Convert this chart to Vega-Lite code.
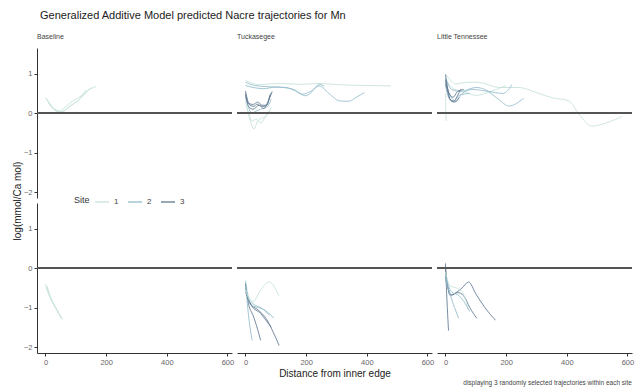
{
  "$schema": "https://vega.github.io/schema/vega-lite/v6.json",
  "padding": {"left": 12, "top": 10, "right": 3, "bottom": 2},
  "background": "white",
  "title": {"text": "Generalized Additive Model predicted Nacre trajectories for Mn", "anchor": "start", "fontSize": 11, "fontWeight": "normal", "font": "Liberation Sans", "color": "#222222", "offset": 12, "dx": 27},
  "config": {
    "view": {"stroke": null},
    "font": "Liberation Sans",
    "axis": {"grid": false, "domainColor": "#333333", "domainWidth": 1, "tickColor": "#333333", "tickSize": 3, "labelColor": "#666666", "labelFontSize": 7.5, "labelPadding": 2}
  },
  "spacing": 0,
  "vconcat": [
    {
      "data": {"values": [
        {"p":"A","r":"Baseline","s":"1","t":"b1","x":0,"y":0.40},{"p":"A","r":"Baseline","s":"1","t":"b1","x":15,"y":0.22},{"p":"A","r":"Baseline","s":"1","t":"b1","x":30,"y":0.08},{"p":"A","r":"Baseline","s":"1","t":"b1","x":45,"y":0.05},{"p":"A","r":"Baseline","s":"1","t":"b1","x":60,"y":0.12},{"p":"A","r":"Baseline","s":"1","t":"b1","x":80,"y":0.25},{"p":"A","r":"Baseline","s":"1","t":"b1","x":100,"y":0.35},{"p":"A","r":"Baseline","s":"1","t":"b1","x":120,"y":0.45},{"p":"A","r":"Baseline","s":"1","t":"b1","x":140,"y":0.58},{"p":"A","r":"Baseline","s":"1","t":"b1","x":166,"y":0.67},
        {"p":"A","r":"Baseline","s":"1","t":"b2","x":5,"y":0.35},{"p":"A","r":"Baseline","s":"1","t":"b2","x":20,"y":0.18},{"p":"A","r":"Baseline","s":"1","t":"b2","x":40,"y":0.06},{"p":"A","r":"Baseline","s":"1","t":"b2","x":55,"y":0.03},{"p":"A","r":"Baseline","s":"1","t":"b2","x":75,"y":0.15},{"p":"A","r":"Baseline","s":"1","t":"b2","x":95,"y":0.25},{"p":"A","r":"Baseline","s":"1","t":"b2","x":115,"y":0.38},{"p":"A","r":"Baseline","s":"1","t":"b2","x":133,"y":0.59},
        {"p":"A","r":"Baseline","s":"1","t":"b3","x":10,"y":0.25},{"p":"A","r":"Baseline","s":"1","t":"b3","x":25,"y":0.12},{"p":"A","r":"Baseline","s":"1","t":"b3","x":45,"y":0.02},{"p":"A","r":"Baseline","s":"1","t":"b3","x":65,"y":0.08},{"p":"A","r":"Baseline","s":"1","t":"b3","x":85,"y":0.2},{"p":"A","r":"Baseline","s":"1","t":"b3","x":105,"y":0.3},{"p":"A","r":"Baseline","s":"1","t":"b3","x":125,"y":0.45},{"p":"A","r":"Baseline","s":"1","t":"b3","x":150,"y":0.65},
        {"p":"B","r":"Baseline","s":"1","t":"bb1","x":0,"y":-0.40},{"p":"B","r":"Baseline","s":"1","t":"bb1","x":10,"y":-0.65},{"p":"B","r":"Baseline","s":"1","t":"bb1","x":25,"y":-0.9},{"p":"B","r":"Baseline","s":"1","t":"bb1","x":40,"y":-1.1},{"p":"B","r":"Baseline","s":"1","t":"bb1","x":55,"y":-1.3},
        {"p":"B","r":"Baseline","s":"1","t":"bb2","x":3,"y":-0.5},{"p":"B","r":"Baseline","s":"1","t":"bb2","x":15,"y":-0.72},{"p":"B","r":"Baseline","s":"1","t":"bb2","x":30,"y":-0.95},{"p":"B","r":"Baseline","s":"1","t":"bb2","x":45,"y":-1.15},{"p":"B","r":"Baseline","s":"1","t":"bb2","x":50,"y":-1.25},
        {"p":"B","r":"Baseline","s":"1","t":"bb3","x":5,"y":-0.45},{"p":"B","r":"Baseline","s":"1","t":"bb3","x":20,"y":-0.8},{"p":"B","r":"Baseline","s":"1","t":"bb3","x":35,"y":-1.02},{"p":"B","r":"Baseline","s":"1","t":"bb3","x":48,"y":-1.2},{"p":"B","r":"Baseline","s":"1","t":"bb3","x":57,"y":-1.28},

        {"p":"A","r":"Tuckasegee","s":"1","t":"t1","x":0,"y":0.82},{"p":"A","r":"Tuckasegee","s":"1","t":"t1","x":20,"y":0.77},{"p":"A","r":"Tuckasegee","s":"1","t":"t1","x":45,"y":0.72},{"p":"A","r":"Tuckasegee","s":"1","t":"t1","x":80,"y":0.74},{"p":"A","r":"Tuckasegee","s":"1","t":"t1","x":120,"y":0.75},{"p":"A","r":"Tuckasegee","s":"1","t":"t1","x":178,"y":0.73},{"p":"A","r":"Tuckasegee","s":"1","t":"t1","x":243,"y":0.75},{"p":"A","r":"Tuckasegee","s":"1","t":"t1","x":310,"y":0.72},{"p":"A","r":"Tuckasegee","s":"1","t":"t1","x":400,"y":0.7},{"p":"A","r":"Tuckasegee","s":"1","t":"t1","x":480,"y":0.69},
        {"p":"A","r":"Tuckasegee","s":"1","t":"t2","x":0,"y":0.3},{"p":"A","r":"Tuckasegee","s":"1","t":"t2","x":8,"y":0.05},{"p":"A","r":"Tuckasegee","s":"1","t":"t2","x":18,"y":-0.25},{"p":"A","r":"Tuckasegee","s":"1","t":"t2","x":28,"y":-0.4},{"p":"A","r":"Tuckasegee","s":"1","t":"t2","x":40,"y":-0.2},{"p":"A","r":"Tuckasegee","s":"1","t":"t2","x":55,"y":-0.12},{"p":"A","r":"Tuckasegee","s":"1","t":"t2","x":70,"y":-0.05},{"p":"A","r":"Tuckasegee","s":"1","t":"t2","x":85,"y":0.15},
        {"p":"A","r":"Tuckasegee","s":"1","t":"t3","x":3,"y":0.2},{"p":"A","r":"Tuckasegee","s":"1","t":"t3","x":12,"y":-0.05},{"p":"A","r":"Tuckasegee","s":"1","t":"t3","x":22,"y":-0.2},{"p":"A","r":"Tuckasegee","s":"1","t":"t3","x":35,"y":-0.15},{"p":"A","r":"Tuckasegee","s":"1","t":"t3","x":50,"y":-0.25},{"p":"A","r":"Tuckasegee","s":"1","t":"t3","x":65,"y":-0.1},{"p":"A","r":"Tuckasegee","s":"1","t":"t3","x":80,"y":0.05},
        {"p":"A","r":"Tuckasegee","s":"2","t":"t4","x":0,"y":0.78},{"p":"A","r":"Tuckasegee","s":"2","t":"t4","x":30,"y":0.7},{"p":"A","r":"Tuckasegee","s":"2","t":"t4","x":70,"y":0.67},{"p":"A","r":"Tuckasegee","s":"2","t":"t4","x":133,"y":0.65},{"p":"A","r":"Tuckasegee","s":"2","t":"t4","x":160,"y":0.58},{"p":"A","r":"Tuckasegee","s":"2","t":"t4","x":188,"y":0.48},{"p":"A","r":"Tuckasegee","s":"2","t":"t4","x":215,"y":0.55},{"p":"A","r":"Tuckasegee","s":"2","t":"t4","x":243,"y":0.69},{"p":"A","r":"Tuckasegee","s":"2","t":"t4","x":275,"y":0.5},{"p":"A","r":"Tuckasegee","s":"2","t":"t4","x":310,"y":0.31},{"p":"A","r":"Tuckasegee","s":"2","t":"t4","x":340,"y":0.3},{"p":"A","r":"Tuckasegee","s":"2","t":"t4","x":365,"y":0.4},{"p":"A","r":"Tuckasegee","s":"2","t":"t4","x":392,"y":0.52},
        {"p":"A","r":"Tuckasegee","s":"2","t":"t5","x":0,"y":0.7},{"p":"A","r":"Tuckasegee","s":"2","t":"t5","x":25,"y":0.65},{"p":"A","r":"Tuckasegee","s":"2","t":"t5","x":60,"y":0.62},{"p":"A","r":"Tuckasegee","s":"2","t":"t5","x":100,"y":0.66},{"p":"A","r":"Tuckasegee","s":"2","t":"t5","x":155,"y":0.61},{"p":"A","r":"Tuckasegee","s":"2","t":"t5","x":199,"y":0.44},{"p":"A","r":"Tuckasegee","s":"2","t":"t5","x":220,"y":0.55},{"p":"A","r":"Tuckasegee","s":"2","t":"t5","x":243,"y":0.73},{"p":"A","r":"Tuckasegee","s":"2","t":"t5","x":260,"y":0.68},
        {"p":"A","r":"Tuckasegee","s":"2","t":"t6","x":0,"y":0.4},{"p":"A","r":"Tuckasegee","s":"2","t":"t6","x":10,"y":0.15},{"p":"A","r":"Tuckasegee","s":"2","t":"t6","x":20,"y":0.0},{"p":"A","r":"Tuckasegee","s":"2","t":"t6","x":35,"y":0.05},{"p":"A","r":"Tuckasegee","s":"2","t":"t6","x":50,"y":0.1},{"p":"A","r":"Tuckasegee","s":"2","t":"t6","x":70,"y":0.15},{"p":"A","r":"Tuckasegee","s":"2","t":"t6","x":85,"y":0.35},
        {"p":"A","r":"Tuckasegee","s":"3","t":"t7","x":0,"y":0.56},{"p":"A","r":"Tuckasegee","s":"3","t":"t7","x":8,"y":0.3},{"p":"A","r":"Tuckasegee","s":"3","t":"t7","x":15,"y":0.2},{"p":"A","r":"Tuckasegee","s":"3","t":"t7","x":28,"y":0.17},{"p":"A","r":"Tuckasegee","s":"3","t":"t7","x":38,"y":0.23},{"p":"A","r":"Tuckasegee","s":"3","t":"t7","x":50,"y":0.18},{"p":"A","r":"Tuckasegee","s":"3","t":"t7","x":62,"y":0.17},{"p":"A","r":"Tuckasegee","s":"3","t":"t7","x":72,"y":0.24},{"p":"A","r":"Tuckasegee","s":"3","t":"t7","x":83,"y":0.5},
        {"p":"A","r":"Tuckasegee","s":"3","t":"t8","x":0,"y":0.5},{"p":"A","r":"Tuckasegee","s":"3","t":"t8","x":10,"y":0.25},{"p":"A","r":"Tuckasegee","s":"3","t":"t8","x":25,"y":0.22},{"p":"A","r":"Tuckasegee","s":"3","t":"t8","x":40,"y":0.28},{"p":"A","r":"Tuckasegee","s":"3","t":"t8","x":55,"y":0.2},{"p":"A","r":"Tuckasegee","s":"3","t":"t8","x":70,"y":0.2},{"p":"A","r":"Tuckasegee","s":"3","t":"t8","x":80,"y":0.45},
        {"p":"A","r":"Tuckasegee","s":"3","t":"t9","x":0,"y":0.45},{"p":"A","r":"Tuckasegee","s":"3","t":"t9","x":12,"y":0.15},{"p":"A","r":"Tuckasegee","s":"3","t":"t9","x":25,"y":0.1},{"p":"A","r":"Tuckasegee","s":"3","t":"t9","x":45,"y":0.2},{"p":"A","r":"Tuckasegee","s":"3","t":"t9","x":60,"y":0.12},{"p":"A","r":"Tuckasegee","s":"3","t":"t9","x":75,"y":0.3},{"p":"A","r":"Tuckasegee","s":"3","t":"t9","x":88,"y":0.55},

        {"p":"B","r":"Tuckasegee","s":"1","t":"tb1","x":0,"y":-0.3},{"p":"B","r":"Tuckasegee","s":"1","t":"tb1","x":10,"y":-0.7},{"p":"B","r":"Tuckasegee","s":"1","t":"tb1","x":25,"y":-0.85},{"p":"B","r":"Tuckasegee","s":"1","t":"tb1","x":50,"y":-0.55},{"p":"B","r":"Tuckasegee","s":"1","t":"tb1","x":78,"y":-0.35},{"p":"B","r":"Tuckasegee","s":"1","t":"tb1","x":110,"y":-0.7},
        {"p":"B","r":"Tuckasegee","s":"2","t":"tb2","x":0,"y":-0.35},{"p":"B","r":"Tuckasegee","s":"2","t":"tb2","x":5,"y":-0.8},{"p":"B","r":"Tuckasegee","s":"2","t":"tb2","x":10,"y":-1.2},{"p":"B","r":"Tuckasegee","s":"2","t":"tb2","x":15,"y":-1.5},{"p":"B","r":"Tuckasegee","s":"2","t":"tb2","x":22,"y":-1.83},
        {"p":"B","r":"Tuckasegee","s":"3","t":"tb3","x":0,"y":-0.4},{"p":"B","r":"Tuckasegee","s":"3","t":"tb3","x":10,"y":-0.9},{"p":"B","r":"Tuckasegee","s":"3","t":"tb3","x":25,"y":-1.2},{"p":"B","r":"Tuckasegee","s":"3","t":"tb3","x":40,"y":-1.55},{"p":"B","r":"Tuckasegee","s":"3","t":"tb3","x":50,"y":-1.83},
        {"p":"B","r":"Tuckasegee","s":"3","t":"tb4","x":0,"y":-0.5},{"p":"B","r":"Tuckasegee","s":"3","t":"tb4","x":15,"y":-0.9},{"p":"B","r":"Tuckasegee","s":"3","t":"tb4","x":40,"y":-1.05},{"p":"B","r":"Tuckasegee","s":"3","t":"tb4","x":70,"y":-1.3},{"p":"B","r":"Tuckasegee","s":"3","t":"tb4","x":90,"y":-1.6},{"p":"B","r":"Tuckasegee","s":"3","t":"tb4","x":111,"y":-1.96},
        {"p":"B","r":"Tuckasegee","s":"2","t":"tb5","x":0,"y":-0.45},{"p":"B","r":"Tuckasegee","s":"2","t":"tb5","x":20,"y":-0.95},{"p":"B","r":"Tuckasegee","s":"2","t":"tb5","x":45,"y":-1.0},{"p":"B","r":"Tuckasegee","s":"2","t":"tb5","x":70,"y":-1.1},{"p":"B","r":"Tuckasegee","s":"2","t":"tb5","x":94,"y":-1.27},
        {"p":"B","r":"Tuckasegee","s":"3","t":"tb6","x":0,"y":-0.6},{"p":"B","r":"Tuckasegee","s":"3","t":"tb6","x":20,"y":-0.95},{"p":"B","r":"Tuckasegee","s":"3","t":"tb6","x":50,"y":-1.15},{"p":"B","r":"Tuckasegee","s":"3","t":"tb6","x":75,"y":-1.4},{"p":"B","r":"Tuckasegee","s":"3","t":"tb6","x":85,"y":-1.5},
        {"p":"B","r":"Tuckasegee","s":"2","t":"tb7","x":0,"y":-0.5},{"p":"B","r":"Tuckasegee","s":"2","t":"tb7","x":15,"y":-0.85},{"p":"B","r":"Tuckasegee","s":"2","t":"tb7","x":35,"y":-0.95},{"p":"B","r":"Tuckasegee","s":"2","t":"tb7","x":60,"y":-1.05},{"p":"B","r":"Tuckasegee","s":"2","t":"tb7","x":80,"y":-1.2},
        {"p":"B","r":"Tuckasegee","s":"1","t":"tb8","x":0,"y":-0.55},{"p":"B","r":"Tuckasegee","s":"1","t":"tb8","x":10,"y":-0.75},{"p":"B","r":"Tuckasegee","s":"1","t":"tb8","x":25,"y":-0.9},{"p":"B","r":"Tuckasegee","s":"1","t":"tb8","x":40,"y":-1.0},

        {"p":"A","r":"Little Tennessee","s":"1","t":"l1","x":0,"y":0.99},{"p":"A","r":"Little Tennessee","s":"1","t":"l1","x":15,"y":0.85},{"p":"A","r":"Little Tennessee","s":"1","t":"l1","x":32,"y":0.74},{"p":"A","r":"Little Tennessee","s":"1","t":"l1","x":70,"y":0.78},{"p":"A","r":"Little Tennessee","s":"1","t":"l1","x":109,"y":0.78},{"p":"A","r":"Little Tennessee","s":"1","t":"l1","x":175,"y":0.65},{"p":"A","r":"Little Tennessee","s":"1","t":"l1","x":242,"y":0.65},{"p":"A","r":"Little Tennessee","s":"1","t":"l1","x":300,"y":0.52},{"p":"A","r":"Little Tennessee","s":"1","t":"l1","x":352,"y":0.39},{"p":"A","r":"Little Tennessee","s":"1","t":"l1","x":407,"y":0.31},{"p":"A","r":"Little Tennessee","s":"1","t":"l1","x":440,"y":-0.03},{"p":"A","r":"Little Tennessee","s":"1","t":"l1","x":484,"y":-0.33},{"p":"A","r":"Little Tennessee","s":"1","t":"l1","x":530,"y":-0.25},{"p":"A","r":"Little Tennessee","s":"1","t":"l1","x":583,"y":-0.08},
        {"p":"A","r":"Little Tennessee","s":"1","t":"l2","x":0,"y":0.5},{"p":"A","r":"Little Tennessee","s":"1","t":"l2","x":1,"y":0.1},{"p":"A","r":"Little Tennessee","s":"1","t":"l2","x":2,"y":-0.2},
        {"p":"A","r":"Little Tennessee","s":"1","t":"l3","x":0,"y":0.85},{"p":"A","r":"Little Tennessee","s":"1","t":"l3","x":30,"y":0.6},{"p":"A","r":"Little Tennessee","s":"1","t":"l3","x":60,"y":0.55},{"p":"A","r":"Little Tennessee","s":"1","t":"l3","x":100,"y":0.45},{"p":"A","r":"Little Tennessee","s":"1","t":"l3","x":150,"y":0.55},{"p":"A","r":"Little Tennessee","s":"1","t":"l3","x":200,"y":0.7},
        {"p":"A","r":"Little Tennessee","s":"2","t":"l4","x":0,"y":0.9},{"p":"A","r":"Little Tennessee","s":"2","t":"l4","x":20,"y":0.6},{"p":"A","r":"Little Tennessee","s":"2","t":"l4","x":50,"y":0.55},{"p":"A","r":"Little Tennessee","s":"2","t":"l4","x":100,"y":0.65},{"p":"A","r":"Little Tennessee","s":"2","t":"l4","x":130,"y":0.6},{"p":"A","r":"Little Tennessee","s":"2","t":"l4","x":175,"y":0.35},{"p":"A","r":"Little Tennessee","s":"2","t":"l4","x":209,"y":0.18},{"p":"A","r":"Little Tennessee","s":"2","t":"l4","x":258,"y":0.38},
        {"p":"A","r":"Little Tennessee","s":"2","t":"l5","x":0,"y":0.8},{"p":"A","r":"Little Tennessee","s":"2","t":"l5","x":15,"y":0.45},{"p":"A","r":"Little Tennessee","s":"2","t":"l5","x":35,"y":0.3},{"p":"A","r":"Little Tennessee","s":"2","t":"l5","x":55,"y":0.5},{"p":"A","r":"Little Tennessee","s":"2","t":"l5","x":90,"y":0.6},{"p":"A","r":"Little Tennessee","s":"2","t":"l5","x":140,"y":0.55},{"p":"A","r":"Little Tennessee","s":"2","t":"l5","x":190,"y":0.5},{"p":"A","r":"Little Tennessee","s":"2","t":"l5","x":219,"y":0.72},
        {"p":"A","r":"Little Tennessee","s":"2","t":"l6","x":0,"y":0.7},{"p":"A","r":"Little Tennessee","s":"2","t":"l6","x":10,"y":0.4},{"p":"A","r":"Little Tennessee","s":"2","t":"l6","x":25,"y":0.3},{"p":"A","r":"Little Tennessee","s":"2","t":"l6","x":45,"y":0.45},{"p":"A","r":"Little Tennessee","s":"2","t":"l6","x":80,"y":0.5},
        {"p":"A","r":"Little Tennessee","s":"3","t":"l7","x":0,"y":0.98},{"p":"A","r":"Little Tennessee","s":"3","t":"l7","x":8,"y":0.6},{"p":"A","r":"Little Tennessee","s":"3","t":"l7","x":15,"y":0.35},{"p":"A","r":"Little Tennessee","s":"3","t":"l7","x":28,"y":0.3},{"p":"A","r":"Little Tennessee","s":"3","t":"l7","x":40,"y":0.45},{"p":"A","r":"Little Tennessee","s":"3","t":"l7","x":50,"y":0.6},
        {"p":"A","r":"Little Tennessee","s":"3","t":"l8","x":0,"y":0.85},{"p":"A","r":"Little Tennessee","s":"3","t":"l8","x":10,"y":0.45},{"p":"A","r":"Little Tennessee","s":"3","t":"l8","x":20,"y":0.3},{"p":"A","r":"Little Tennessee","s":"3","t":"l8","x":30,"y":0.28},{"p":"A","r":"Little Tennessee","s":"3","t":"l8","x":45,"y":0.4},
        {"p":"A","r":"Little Tennessee","s":"3","t":"l9","x":0,"y":0.75},{"p":"A","r":"Little Tennessee","s":"3","t":"l9","x":12,"y":0.5},{"p":"A","r":"Little Tennessee","s":"3","t":"l9","x":25,"y":0.4},{"p":"A","r":"Little Tennessee","s":"3","t":"l9","x":40,"y":0.55},{"p":"A","r":"Little Tennessee","s":"3","t":"l9","x":60,"y":0.6},

        {"p":"B","r":"Little Tennessee","s":"3","t":"lb1","x":0,"y":0.12},{"p":"B","r":"Little Tennessee","s":"3","t":"lb1","x":3,"y":-0.5},{"p":"B","r":"Little Tennessee","s":"3","t":"lb1","x":6,"y":-1.0},{"p":"B","r":"Little Tennessee","s":"3","t":"lb1","x":8,"y":-1.3},{"p":"B","r":"Little Tennessee","s":"3","t":"lb1","x":10,"y":-1.58},
        {"p":"B","r":"Little Tennessee","s":"3","t":"lb2","x":0,"y":0.0},{"p":"B","r":"Little Tennessee","s":"3","t":"lb2","x":8,"y":-0.5},{"p":"B","r":"Little Tennessee","s":"3","t":"lb2","x":15,"y":-0.69},{"p":"B","r":"Little Tennessee","s":"3","t":"lb2","x":35,"y":-0.62},{"p":"B","r":"Little Tennessee","s":"3","t":"lb2","x":55,"y":-0.5},{"p":"B","r":"Little Tennessee","s":"3","t":"lb2","x":76,"y":-0.35},{"p":"B","r":"Little Tennessee","s":"3","t":"lb2","x":100,"y":-0.65},{"p":"B","r":"Little Tennessee","s":"3","t":"lb2","x":130,"y":-1.0},{"p":"B","r":"Little Tennessee","s":"3","t":"lb2","x":165,"y":-1.32},
        {"p":"B","r":"Little Tennessee","s":"3","t":"lb3","x":0,"y":-0.2},{"p":"B","r":"Little Tennessee","s":"3","t":"lb3","x":10,"y":-0.55},{"p":"B","r":"Little Tennessee","s":"3","t":"lb3","x":20,"y":-0.68},{"p":"B","r":"Little Tennessee","s":"3","t":"lb3","x":40,"y":-0.62},{"p":"B","r":"Little Tennessee","s":"3","t":"lb3","x":60,"y":-0.7},{"p":"B","r":"Little Tennessee","s":"3","t":"lb3","x":80,"y":-1.0},{"p":"B","r":"Little Tennessee","s":"3","t":"lb3","x":103,"y":-1.27},
        {"p":"B","r":"Little Tennessee","s":"2","t":"lb4","x":0,"y":-0.3},{"p":"B","r":"Little Tennessee","s":"2","t":"lb4","x":15,"y":-0.65},{"p":"B","r":"Little Tennessee","s":"2","t":"lb4","x":25,"y":-0.9},{"p":"B","r":"Little Tennessee","s":"2","t":"lb4","x":35,"y":-1.1},{"p":"B","r":"Little Tennessee","s":"2","t":"lb4","x":43,"y":-1.27},
        {"p":"B","r":"Little Tennessee","s":"1","t":"lb5","x":0,"y":-0.1},{"p":"B","r":"Little Tennessee","s":"1","t":"lb5","x":15,"y":-0.45},{"p":"B","r":"Little Tennessee","s":"1","t":"lb5","x":35,"y":-0.5},{"p":"B","r":"Little Tennessee","s":"1","t":"lb5","x":55,"y":-0.6},{"p":"B","r":"Little Tennessee","s":"1","t":"lb5","x":70,"y":-0.9},{"p":"B","r":"Little Tennessee","s":"1","t":"lb5","x":75,"y":-1.05},
        {"p":"B","r":"Little Tennessee","s":"2","t":"lb6","x":0,"y":-0.2},{"p":"B","r":"Little Tennessee","s":"2","t":"lb6","x":20,"y":-0.6},{"p":"B","r":"Little Tennessee","s":"2","t":"lb6","x":45,"y":-0.7},{"p":"B","r":"Little Tennessee","s":"2","t":"lb6","x":65,"y":-0.9},{"p":"B","r":"Little Tennessee","s":"2","t":"lb6","x":80,"y":-1.1}
      ]},
      "facet": {
        "row": {"field": "p", "type": "nominal", "title": "log(mmol/Ca mol)", "header": {"labels": false, "titleOrient": "left", "titleFontSize": 10, "titleFontWeight": "normal", "titleColor": "#222222", "titlePadding": -10}},
        "column": {"field": "r", "type": "nominal", "sort": ["Baseline", "Tuckasegee", "Little Tennessee"], "title": "Distance from inner edge", "header": {"titleOrient": "bottom", "labelOrient": "top", "labelAnchor": "start", "labelFontSize": 7, "labelColor": "#444444", "labelPadding": 8, "titleFontSize": 10, "titleFontWeight": "normal", "titleColor": "#222222", "titlePadding": -7}}
      },
      "bounds": "flush",
      "spacing": {"row": 5, "column": 5},
      "spec": {
        "width": 195,
        "height": 150,
        "layer": [
          {
            "mark": {"type": "line", "strokeWidth": 1, "opacity": 0.85, "interpolate": "monotone"},
            "encoding": {
              "x": {"field": "x", "type": "quantitative", "scale": {"domain": [-28, 615], "nice": false, "zero": false}, "axis": {"values": [0, 200, 400, 600], "title": null}},
              "y": {"field": "y", "type": "quantitative", "scale": {"domain": [-2.15, 1.65], "nice": false, "zero": false}, "axis": {"values": [-2, -1, 0, 1], "title": null}},
              "color": {"field": "s", "type": "nominal", "scale": {"domain": ["1", "2", "3"], "range": ["#c5e2d8", "#93bccb", "#5f7890"]}, "legend": {"title": "Site", "orient": "none", "direction": "horizontal", "legendX": 37, "legendY": 146, "titleOrient": "left", "symbolType": "stroke", "symbolSize": 196, "symbolStrokeWidth": 1.5, "labelFontSize": 8, "labelColor": "#444444", "titleFontSize": 9, "titleFontWeight": "normal", "titleColor": "#333333", "columnPadding": 6, "titlePadding": 4}},
              "detail": {"field": "t", "type": "nominal"},
              "order": {"field": "x", "type": "quantitative"}
            }
          },
          {
            "mark": {"type": "rule", "color": "#555555", "strokeWidth": 1.5},
            "encoding": {"y": {"datum": 0}}
          }
        ]
      }
    },
    {
      "width": 595,
      "height": 1,
      "data": {"values": []},
      "mark": {"type": "point", "opacity": 0},
      "title": {"text": "displaying 3 randomly selected trajectories within each site", "anchor": "end", "orient": "bottom", "fontSize": 6.5, "fontWeight": "normal", "color": "#444444", "offset": 0}
    }
  ]
}
